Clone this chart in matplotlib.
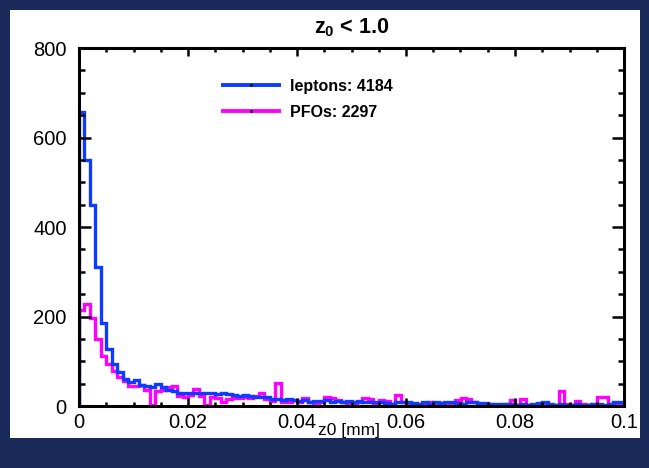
import numpy as np
import matplotlib
matplotlib.use("Agg")
import matplotlib.pyplot as plt
from matplotlib.patches import Rectangle
from matplotlib.lines import Line2D
from matplotlib.ticker import MultipleLocator, FuncFormatter

plt.rcParams['font.family'] = ['Liberation Sans', 'DejaVu Sans']
plt.rcParams['mathtext.fontset'] = 'custom'
plt.rcParams['mathtext.rm'] = 'Liberation Sans:bold'

# histogram range / binning (0 .. 0.1 mm, 100 bins)
x_min, x_max, n_bins = 0.0, 0.1, 100

# counts per bin
leptons = [658, 550, 449, 311, 185, 128, 94, 76, 60, 54,
           57, 47, 44, 43, 50, 43, 36, 33, 30, 29,
           30, 29, 29, 30, 28, 27, 28, 26, 24, 23,
           24, 22, 20, 21, 19, 15, 16, 14, 15, 13,
           12, 14, 10, 12, 11, 13, 10, 12, 9, 11,
           10, 11, 9, 8, 10, 9, 7, 4, 8, 10,
           9, 6, 4, 8, 5, 8, 6, 9, 10, 7,
           5, 8, 9, 7, 6, 4, 5, 4, 5, 4,
           3, 4, 3, 4, 6, 9, 4, 3, 4, 3,
           3, 4, 3, 3, 4, 4, 3, 4, 8, 9]
pfos = [215, 228, 196, 150, 112, 94, 78, 64, 55, 45,
        44, 46, 36, 2, 33, 35, 42, 45, 22, 19,
        25, 37, 22, 2, 20, 18, 10, 16, 18, 17,
        20, 18, 22, 30, 16, 12, 52, 10, 8, 14,
        8, 18, 8, 6, 10, 20, 18, 14, 8, 6,
        7, 9, 17, 15, 6, 13, 12, 4, 25, 8,
        6, 4, 3, 5, 8, 4, 6, 3, 5, 14,
        17, 15, 8, 5, 3, 4, 2, 3, 4, 13,
        3, 16, 3, 2, 4, 3, 2, 3, 34, 4,
        3, 12, 4, 3, 4, 20, 20, 2, 4, 3]
labels = ['leptons: 4184', 'PFOs: 2297']
colors = ['#0d3bff', '#ff00ff']

navy = '#1a2b5b'
fig = plt.figure(figsize=(6.49, 4.68), dpi=100, facecolor=navy)
W, H = 649, 468
fig.patches.append(Rectangle((10 / W, 1 - 438 / H), 630 / W, 428 / H,
                             transform=fig.transFigure, facecolor='white',
                             edgecolor='none', zorder=-10))

ax = fig.add_axes([79 / W, 1 - 406 / H, 545 / W, 358 / H])
ax.set_zorder(5)
ax.set_facecolor('white')

edges = np.linspace(x_min, x_max, n_bins + 1)
ax.stairs(pfos, edges, color=colors[1], linewidth=2.4, baseline=0)
ax.stairs(leptons, edges, color=colors[0], linewidth=2.4, baseline=0)

ax.set_xlim(x_min, x_max)
ax.set_ylim(0, 800)
ax.xaxis.set_major_locator(MultipleLocator(0.02))
ax.xaxis.set_minor_locator(MultipleLocator(0.005))
ax.yaxis.set_major_locator(MultipleLocator(200))
ax.yaxis.set_minor_locator(MultipleLocator(50))
ax.xaxis.set_major_formatter(FuncFormatter(lambda v, p: '%g' % round(v, 4)))

for s in ax.spines.values():
    s.set_linewidth(2.2)
ax.tick_params(axis='both', which='both', direction='in', top=True, right=True,
               width=1.8, labelsize=14.5, colors='black')
ax.tick_params(axis='y', which='major', length=8.5, pad=9)
ax.tick_params(axis='y', which='minor', length=4)
ax.tick_params(axis='x', which='major', length=6, pad=5)
ax.tick_params(axis='x', which='minor', length=3)

fig.text(351.5 / W, 1 - 28 / H, r'$\mathrm{z_0}$ < 1.0', ha='center', va='center',
         fontsize=15.5, fontweight='bold')
fig.text(349 / W, 1 - 430 / H, 'z0 [mm]', ha='center', va='center', fontsize=12.5)

handles = [Line2D([], [], color=c, linewidth=2.8, marker='.', markersize=2,
                  markerfacecolor='k', markeredgecolor='k') for c in colors]
leg = ax.legend(handles, labels, loc='upper left', bbox_to_anchor=(0.25, 0.936),
                frameon=False, handlelength=3.5, handletextpad=0.7, labelspacing=0.7,
                borderpad=0, numpoints=1,
                prop={'weight': 'bold', 'size': 11.5})

fig.savefig('out.png', dpi=100, facecolor=navy)
